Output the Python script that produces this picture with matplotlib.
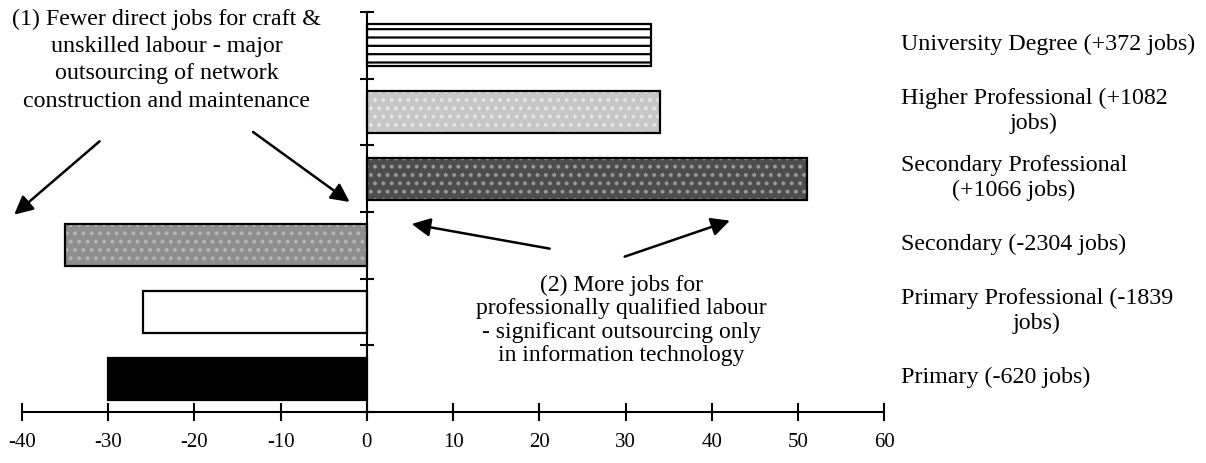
import matplotlib.pyplot as plt

plt.rcParams["font.family"] = ["Liberation Serif", "DejaVu Serif"]

# Qualification groups, bottom to top, and % change in direct jobs
categories = [
    "Primary (-620 jobs)",
    "Primary Professional (-1839\njobs)",
    "Secondary (-2304 jobs)",
    "Secondary Professional\n(+1066 jobs)",
    "Higher Professional (+1082\njobs)",
    "University Degree (+372 jobs)",
]
values = [-30, -26, -35, 51, 34, 33]
xticks = [-40, -30, -20, -10, 0, 10, 20, 30, 40, 50, 60]

note_craft = ("(1) Fewer direct jobs for craft &\nunskilled labour - major\n"
              "outsourcing of network\nconstruction and maintenance")
note_prof = ("(2) More jobs for\nprofessionally qualified labour\n"
             "- significant outsourcing only\nin information technology")

# bar looks
fills = ["black", "white", "#8e8e8e", "#4e4e4e", "#c6c6c6", "white"]
hatches = [None, None, "..", "..", "..", "--"]
hatch_cols = [None, None, "#b5b5b5", "#9a9a9a", "#e6e6e6", "black"]

fig = plt.figure(figsize=(12.06, 4.64), dpi=100)
ax = fig.add_axes([0.0182, 0.110, 0.715, 0.862])

ypos = [i + 0.5 for i in range(len(categories))]
plt.rcParams["hatch.linewidth"] = 1.6
for y, v, fc, h, hc in zip(ypos, values, fills, hatches, hatch_cols):
    if h:
        ax.barh(y, v, height=0.63, color=fc, hatch=h, edgecolor=hc, linewidth=0, zorder=2)
        ax.barh(y, v, height=0.63, fill=False, edgecolor="black", linewidth=1.6, zorder=3)
    else:
        ax.barh(y, v, height=0.63, color=fc, edgecolor="black", linewidth=1.6, zorder=2)

ax.set_xlim(-40, 60)
ax.set_ylim(0, 6)
ax.spines["top"].set_visible(False)
ax.spines["right"].set_visible(False)
ax.spines["left"].set_position(("data", 0))
ax.spines["left"].set_linewidth(1.5)
ax.spines["bottom"].set_linewidth(1.5)
ax.spines["left"].set_zorder(4)

ax.set_xticks(xticks)
ax.set_xticklabels([str(t) for t in xticks])
ax.set_yticks(range(7))
ax.set_yticklabels([])
ax.tick_params(axis="x", direction="inout", length=13, width=1.5, labelsize=15, pad=8)
ax.tick_params(axis="y", direction="inout", length=10, width=1.5)

for y, lab in zip(ypos, categories):
    ax.text(61.9, y + 0.03, lab, ha="left", va="center", multialignment="center",
            fontsize=17.3, linespacing=1.22)

ax.text(-23.2, 5.29, note_craft, ha="center", va="center", fontsize=17.3, linespacing=1.38)
ax.text(29.5, 1.39, note_prof, ha="center", va="center", fontsize=17, linespacing=1.15)

arrow = dict(arrowstyle="-|>", color="black", lw=1.8, mutation_scale=28, shrinkA=0, shrinkB=0)
for start, end in [((-31.0, 4.06), (-40.9, 2.96)), ((-13.2, 4.2), (-2.0, 3.15)),
                   ((21.2, 2.45), (5.2, 2.82)), ((29.9, 2.33), (42.1, 2.87))]:
    ax.annotate("", xy=end, xytext=start, arrowprops=arrow, annotation_clip=False)

fig.savefig("out.png", dpi=100)
